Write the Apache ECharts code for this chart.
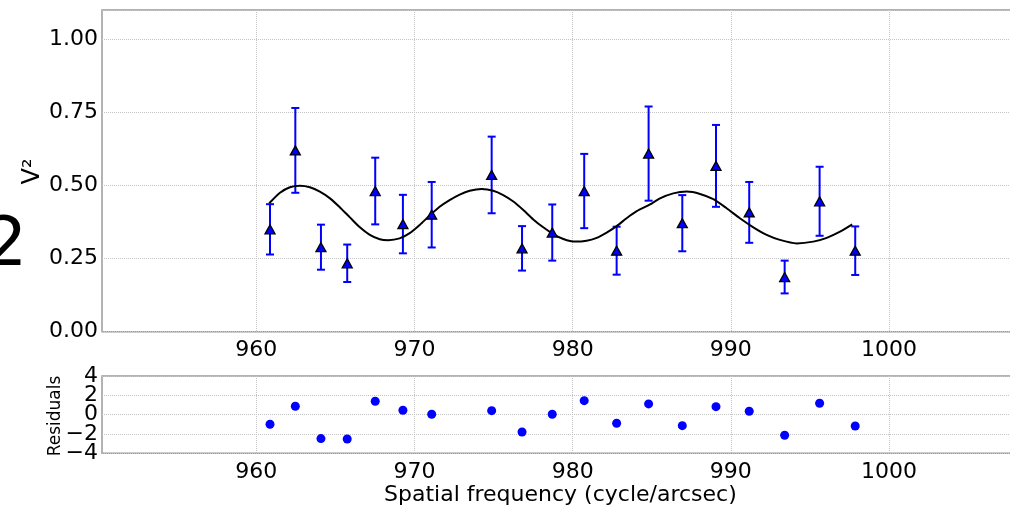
<!DOCTYPE html>
<html><head><meta charset="utf-8">
<script src="https://cdn.jsdelivr.net/npm/echarts@6/dist/echarts.min.js"></script>
<style>html,body{margin:0;padding:0;background:#fff}#c{width:1010px;height:505px}</style>
</head><body><div id="c"></div>
<script>
// Observations
const freq = [960.87, 962.47, 964.09, 965.75, 967.52, 969.27, 971.09, 974.88, 976.80, 978.71,
              980.73, 982.78, 984.80, 986.93, 989.06, 991.16, 993.40, 995.61, 997.86];
const v2 = [0.350, 0.620, 0.289, 0.234, 0.481, 0.368, 0.400, 0.536, 0.285, 0.339,
            0.481, 0.277, 0.609, 0.371, 0.567, 0.408, 0.187, 0.446, 0.277];
const v2Err = [0.086, 0.145, 0.077, 0.064, 0.114, 0.100, 0.112, 0.131, 0.076, 0.096,
               0.127, 0.082, 0.161, 0.096, 0.140, 0.104, 0.056, 0.118, 0.083];
const residuals = [-0.99, 0.87, -2.48, -2.52, 1.39, 0.45, 0.04, 0.41, -1.79, 0.04,
                   1.45, -0.89, 1.11, -1.14, 0.83, 0.35, -2.13, 1.18, -1.17];
// Model curve
const modelFreq = [960.82, 961.50, 962.13, 962.76, 963.39, 964.02, 964.66, 965.29, 965.92, 966.55,
                   967.18, 967.81, 968.34, 969.06, 969.70, 970.33, 970.96, 971.59, 972.22, 972.86,
                   973.49, 974.25, 974.98, 975.61, 976.25, 976.88, 977.51, 978.14, 978.77, 979.41,
                   980.15, 980.88, 981.52, 982.15, 982.78, 983.41, 984.05, 984.89, 985.52, 986.36,
                   987.21, 988.05, 988.89, 989.73, 990.57, 991.42, 992.26, 993.10, 994.16, 995.21,
                   996.06, 996.90, 997.67];
const modelV2 = [0.439, 0.475, 0.494, 0.499, 0.494, 0.479, 0.456, 0.425, 0.391, 0.357,
                 0.331, 0.316, 0.313, 0.319, 0.337, 0.365, 0.397, 0.427, 0.450, 0.469,
                 0.482, 0.488, 0.482, 0.467, 0.445, 0.416, 0.384, 0.357, 0.334, 0.317,
                 0.308, 0.311, 0.321, 0.339, 0.361, 0.388, 0.412, 0.435, 0.456, 0.473,
                 0.479, 0.471, 0.453, 0.422, 0.388, 0.357, 0.331, 0.314, 0.302, 0.308,
                 0.321, 0.342, 0.367];
const xTicks = [960, 970, 980, 990, 1000];
const resTicksA = [-4, 0, 4];
const resTicksB = [-2, 2];
const xTitle = 'Spatial frequency (cycle/arcsec)';
const yTitleTop = 'V²';
const yTitleRes = 'Residuals';
const stray = '2';

const FONT = 'DejaVu Sans';
const chart = echarts.init(document.getElementById('c'), null, {renderer: 'canvas'});
const minus = v => (v < 0 ? '\u2212' + Math.abs(v) : String(v));
const gridLine = {show: true, lineStyle: {type: 'dotted', color: '#c4c4c4', width: 1}};
const xAxisCommon = {
  type: 'value', min: 950.25, max: 1008.2,
  axisLine: {show: false},
  axisTick: {show: false, customValues: xTicks},
  axisLabel: {customValues: xTicks, fontSize: 22, color: '#000', fontFamily: FONT, margin: 8,
    formatter: v => String(v)},
  splitLine: gridLine
};
const resLabel = {fontSize: 22, color: '#000', fontFamily: FONT, margin: 4, formatter: minus,
  showMinLabel: true, showMaxLabel: true, hideOverlap: false};
chart.setOption({
  animation: false,
  grid: [
    {left: 102, top: 10, width: 916.8, height: 321.7, show: true, borderColor: '#9a9a9a', borderWidth: 1.5,
     outerBoundsMode: 'none', containLabel: false},
    {left: 102, top: 376, width: 916.8, height: 77.3, show: true, borderColor: '#9a9a9a', borderWidth: 1.5,
     outerBoundsMode: 'none', containLabel: false}
  ],
  xAxis: [
    Object.assign({gridIndex: 0}, xAxisCommon),
    Object.assign({gridIndex: 1, name: xTitle, nameLocation: 'middle', nameGap: 27,
      nameTextStyle: {fontSize: 22, color: '#000', fontFamily: FONT}}, xAxisCommon)
  ],
  yAxis: [
    {type: 'value', gridIndex: 0, min: 0, max: 1.1, interval: 0.25,
     axisLine: {show: false}, axisTick: {show: false},
     axisLabel: {fontSize: 22, color: '#000', fontFamily: FONT, margin: 4,
       formatter: v => (v > 1.05 ? '' : v.toFixed(2))},
     splitLine: gridLine},
    {type: 'value', gridIndex: 1, min: -4, max: 4, interval: 2,
     axisLine: {show: false}, axisTick: {show: false, customValues: resTicksA},
     axisLabel: Object.assign({customValues: resTicksA}, resLabel),
     splitLine: gridLine},
    {type: 'value', gridIndex: 1, min: -4, max: 4, interval: 2, position: 'left',
     axisLine: {show: false}, axisTick: {show: false, customValues: resTicksB},
     axisLabel: Object.assign({customValues: resTicksB}, resLabel),
     splitLine: gridLine}
  ],
  graphic: [
    {type: 'text', left: -16, top: 213, style: {text: stray, fontSize: 68, fontFamily: FONT, fill: '#000'}},
    {type: 'text', x: 33, y: 171.5, rotation: Math.PI / 2,
     style: {text: yTitleTop, fontSize: 24, fontFamily: FONT, fill: '#000', align: 'center', verticalAlign: 'middle'}},
    {type: 'text', x: 56, y: 416, rotation: Math.PI / 2,
     style: {text: yTitleRes, fontSize: 17, fontFamily: FONT, fill: '#000', align: 'center', verticalAlign: 'middle'}}
  ],
  series: [
    {type: 'custom', xAxisIndex: 0, yAxisIndex: 0, z: 2,
     data: freq.map((f, i) => [f, v2[i] - v2Err[i], v2[i] + v2Err[i]]),
     encode: {x: 0, y: [1, 2]},
     renderItem: function (params, api) {
       const lo = api.coord([api.value(0), api.value(1)]);
       const hi = api.coord([api.value(0), api.value(2)]);
       const w = 4;
       const style = {stroke: '#0000ff', lineWidth: 2};
       return {type: 'group', children: [
         {type: 'line', shape: {x1: lo[0], y1: lo[1], x2: hi[0], y2: hi[1]}, style: style},
         {type: 'line', shape: {x1: lo[0] - w, y1: lo[1], x2: lo[0] + w, y2: lo[1]}, style: style},
         {type: 'line', shape: {x1: hi[0] - w, y1: hi[1], x2: hi[0] + w, y2: hi[1]}, style: style}
       ]};
     }},
    {type: 'line', xAxisIndex: 0, yAxisIndex: 0, z: 3, smooth: 0.25, showSymbol: false,
     data: modelFreq.map((f, i) => [f, modelV2[i]]),
     lineStyle: {color: '#000', width: 2}},
    {type: 'scatter', xAxisIndex: 0, yAxisIndex: 0, z: 4, symbol: 'triangle', symbolSize: [10, 9],
     data: freq.map((f, i) => [f, v2[i]]),
     itemStyle: {color: '#0000ff', borderColor: '#000', borderWidth: 1.3, opacity: 1}},
    {type: 'scatter', xAxisIndex: 1, yAxisIndex: 1, z: 4, symbol: 'circle', symbolSize: 9,
     data: freq.map((f, i) => [f, residuals[i]]),
     itemStyle: {color: '#0000ff', opacity: 1}}
  ]
});
</script>
</body></html>
